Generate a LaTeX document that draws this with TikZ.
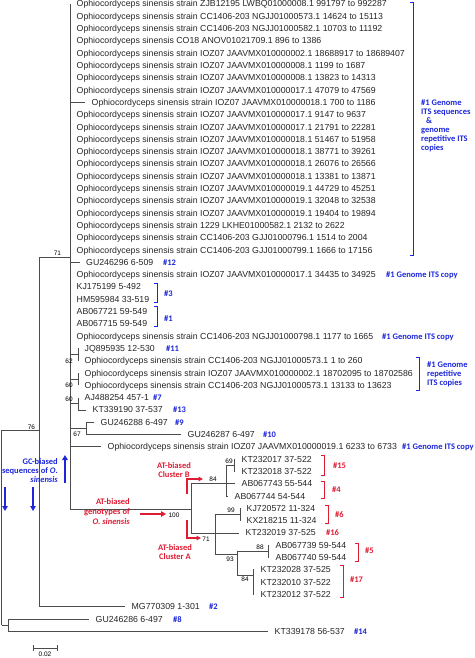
\documentclass[tikz,border=0pt]{standalone}
\usepackage{fontspec}
\setmainfont{Liberation Sans}
\newfontfamily\carl{Carlito}
\usetikzlibrary{arrows.meta}
\definecolor{tagblue}{RGB}{28,38,218}
\definecolor{tagred}{RGB}{222,28,50}
\newcommand\osn{Ophiocordyceps sinensis strain}
\begin{document}
\begin{tikzpicture}[x=1pt,y=-1pt,
 br/.style={draw=black!70,line width=.8pt},
 lf/.style={anchor=west,inner xsep=6.5pt,inner ysep=0pt,text height=6pt,text depth=0pt,text=black!85,font=\fontsize{8.75}{9}\selectfont},
 bs/.style={inner sep=0pt,font=\fontsize{6.5}{7}\selectfont},
 tagb/.style={anchor=west,inner sep=0pt,text height=6pt,text depth=0pt,text=tagblue,font=\carl\bfseries\fontsize{8.5}{9}\selectfont},
 tagr/.style={tagb,text=tagred},
 tagm/.style={inner sep=0pt,text=tagblue,font=\carl\bfseries\fontsize{8.5}{9}\selectfont},
 brk/.style={line width=.9pt},
 fat/.style={line width=1.6pt,-{Triangle[width=5.5pt,length=5pt]}}]
\useasboundingbox(0,0)rectangle(474,658);
\coordinate(root)at(1.5,625);\coordinate(n8)at(8,625);\coordinate(n76)at(39,430);\coordinate(n71)at(70,257);
\coordinate(n62)at(78,354.5);\coordinate(n60a)at(78,379.2);\coordinate(n60b)at(78,403.8);\coordinate(n67)at(86,428.4);
\coordinate(nAT)at(191,509);\coordinate(nB)at(226,483);\coordinate(n69)at(234,465.2);\coordinate(nA)at(215,533);
\coordinate(n99)at(240,514.5);\coordinate(n93)at(237,554);\coordinate(n88)at(268,551.4);\coordinate(n84)at(253,575);
\node[lf](r1)at(70,4.0){\osn\ ZJB12195 LWBQ01000008.1 991797 to 992287};
\node[lf](r2)at(70,16.3){\osn\ CC1406-203 NGJJ01000573.1 14624 to 15113};
\node[lf](r3)at(70,28.6){\osn\ CC1406-203 NGJJ01000582.1 10703 to 11192};
\node[lf](r4)at(70,40.9){Ophiocordyceps sinensis CO18 ANOV01021709.1 896 to 1386};
\node[lf](r5)at(70,53.2){\osn\ IOZ07 JAAVMX010000002.1 18688917 to 18689407};
\node[lf](r6)at(70,65.5){\osn\ IOZ07 JAAVMX010000008.1 1199 to 1687};
\node[lf](r7)at(70,77.8){\osn\ IOZ07 JAAVMX010000008.1 13823 to 14313};
\node[lf](r8)at(70,90.1){\osn\ IOZ07 JAAVMX010000017.1 47079 to 47569};
\node[lf](r9)at(85,102.4){\osn\ IOZ07 JAAVMX010000018.1 700 to 1186};
\node[lf](r10)at(70,114.7){\osn\ IOZ07 JAAVMX010000017.1 9147 to 9637};
\node[lf](r11)at(70,127.0){\osn\ IOZ07 JAAVMX010000017.1 21791 to 22281};
\node[lf](r12)at(70,139.3){\osn\ IOZ07 JAAVMX010000018.1 51467 to 51958};
\node[lf](r13)at(70,151.6){\osn\ IOZ07 JAAVMX010000018.1 38771 to 39261};
\node[lf](r14)at(70,163.9){\osn\ IOZ07 JAAVMX010000018.1 26076 to 26566};
\node[lf](r15)at(70,176.2){\osn\ IOZ07 JAAVMX010000018.1 13381 to 13871};
\node[lf](r16)at(70,188.5){\osn\ IOZ07 JAAVMX010000019.1 44729 to 45251};
\node[lf](r17)at(70,200.8){\osn\ IOZ07 JAAVMX010000019.1 32048 to 32538};
\node[lf](r18)at(70,213.1){\osn\ IOZ07 JAAVMX010000019.1 19404 to 19894};
\node[lf](r19)at(70,225.4){\osn\ 1229 LKHE01000582.1 2132 to 2622};
\node[lf](r20)at(70,237.7){\osn\ CC1406-203 GJJ01000796.1 1514 to 2004};
\node[lf](r21)at(70,250.0){\osn\ CC1406-203 GJJ01000799.1 1666 to 17156};
\node[lf](r22)at(79.5,262.3){GU246296 6-509};
\node[lf](r23)at(70,274.6){\osn\ IOZ07 JAAVMX010000017.1 34435 to 34925};
\node[lf](r24)at(70,286.9){KJ175199 5-492};
\node[lf](r25)at(70,299.2){HM595984 33-519};
\node[lf](r26)at(70,311.5){AB067721 59-549};
\node[lf](r27)at(70,323.8){AB067715 59-549};
\node[lf](r28)at(70,336.1){\osn\ CC1406-203 NGJJ01000798.1 1177 to 1665};
\node[lf](r29)at(78,348.4){JQ895935 12-530};
\node[lf](r30)at(78,360.7){\osn\ CC1406-203 NGJJ01000573.1 1 to 260};
\node[lf](r31)at(78,373.0){\osn\ IOZ07 JAAVMX010000002.1 18702095 to 18702586};
\node[lf](r32)at(78,385.3){\osn\ CC1406-203 NGJJ01000573.1 13133 to 13623};
\node[lf](r33)at(78,397.6){AJ488254 457-1};
\node[lf](r34)at(86,409.9){KT339190 37-537};
\node[lf](r35)at(94,422.2){GU246288 6-497};
\node[lf](r36)at(181,434.5){GU246287 6-497};
\node[lf](r37)at(101,446.8){\osn\ IOZ07 JAAVMX010000019.1 6233 to 6733};
\node[lf](r38)at(235,459.1){KT232017 37-522};
\node[lf](r39)at(235,471.4){KT232018 37-522};
\node[lf](r40)at(235,483.7){AB067743 55-544};
\node[lf](r41)at(228,496.0){AB067744 54-544};
\node[lf](r42)at(240,508.3){KJ720572 11-324};
\node[lf](r43)at(240,520.6){KX218215 11-324};
\node[lf](r44)at(239,532.9){KT232019 37-525};
\node[lf](r45)at(269,545.2){AB067739 59-544};
\node[lf](r46)at(269,557.5){AB067740 59-544};
\node[lf](r47)at(254,569.8){KT232028 37-525};
\node[lf](r48)at(254,582.1){KT232010 37-522};
\node[lf](r49)at(254,594.4){KT232012 37-522};
\node[lf](r50)at(125,606.7){MG770309 1-301};
\node[lf](r51)at(89,619.0){GU246286 6-497};
\node[lf](r52)at(268,631.3){KT339178 56-537};
\draw[br](n71)|-(r1)(n71)|-(r9)(n71)|-(r22)(n71)|-(n62)(n71)|-(n60a)(n71)|-(n60b)(n71)|-(n67)(n71)|-(r37)(n71)|-(nAT);
\draw[br](n62)|-(r29)(n62)|-(r30);\draw[br](n60a)|-(r31)(n60a)|-(r32);\draw[br](n60b)|-(r33)(n60b)|-(r34);\draw[br](n67)|-(r35)(n67)|-(r36);
\draw[br](nAT)|-(nB)(nAT)|-(nA);\draw[br](nB)|-(n69)(nB)|-(r40)(nB)|-(r41);\draw[br](n69)|-(r38)(n69)|-(r39);
\draw[br](nA)|-(n99)(nA)|-(r44)(nA)|-(n93);\draw[br](n99)|-(r42)(n99)|-(r43);\draw[br](n93)|-(n88)(n93)|-(n84);
\draw[br](n88)|-(r45)(n88)|-(r46);\draw[br](n84)|-(r47)(n84)|-(r48)(n84)|-(r49);
\draw[br](n76)|-(n71)(n76)|-(r50);\draw[br](root)|-(n76)(root)--(n8);\draw[br](n8)|-(r51)(n8)|-(r52);
\node[bs](b71)at(57.5,253){71};\node[bs](b76)at(31.5,427){76};\node[bs](b62)at(69,361){62};\node[bs](b60a)at(69,385){60};\node[bs](b60b)at(69,399){60};
\node[bs](b67)at(77,434){67};\node[bs](b100)at(174,515){100};\node[bs](b84a)at(213,479){84};\node[bs](b69)at(229,461){69};\node[bs](b99)at(231,510){99};
\node[bs](b71a)at(206,539){71};\node[bs](b88)at(260,547){88};\node[bs](b93)at(230,559){93};\node[bs](b84b)at(245,579){84};
\node[tagb](t12)at(163,262.3){\#12};\node[tagb](c23)at(386,274.6){\#1 Genome ITS copy};\node[tagb](t3)at(164,293){\#3};\node[tagb](t1)at(164,318){\#1};
\node[tagb](c28)at(382,336.1){\#1 Genome ITS copy};\node[tagb](t11)at(166,348.4){\#11};\node[tagb](t7)at(153,397.6){\#7};\node[tagb](t13)at(173,409.9){\#13};
\node[tagb](t9)at(175,422.2){\#9};\node[tagb](t10)at(263,434.5){\#10};\node[tagb](c37)at(402,446.8){\#1 Genome ITS copy};
\node[tagb](t2)at(209,606.7){\#2};\node[tagb](t8)at(173,619){\#8};\node[tagb](t14)at(354,631.3){\#14};
\node[tagr](t15)at(333,465){\#15};\node[tagr](t4)at(332,489){\#4};\node[tagr](t6)at(335,514){\#6};\node[tagr](t16)at(326,532.9){\#16};\node[tagr](t5)at(365,550){\#5};\node[tagr](t17)at(350,579){\#17};
\draw[tagblue,brk](154,283)-|(157,302)--++(-3,0);\draw[tagblue,brk](154,306)-|(157,326)--++(-3,0);
\draw[tagblue,brk](410,2)-|(413,255)--++(-3,0);\draw[tagblue,brk](416,357)-|(419,390)--++(-3,0);
\draw[tagred,brk](321,455)-|(324,475)--++(-3,0);\draw[tagred,brk](321,481)-|(324,498)--++(-3,0);\draw[tagred,brk](325,505)-|(328,523)--++(-3,0);
\draw[tagred,brk](355,543)-|(358,561)--++(-3,0);\draw[tagred,brk](340,565)-|(343,597)--++(-3,0);
\node[tagm,anchor=north west,align=left](g1)at(421,99){\#1 Genome\\ITS sequences\\\hspace{5pt}\&\\genome\\repetitive ITS\\copies};
\node[tagm,anchor=north west,align=left](g2)at(427,361){\#1 Genome\\repetitive\\ITS copies};
\node[tagm,anchor=north east,align=right](gc)at(58,458){GC-biased\\sequences of \textit{O.}\\\textit{sinensis}};
\node[tagm,text=tagred,anchor=north east,align=right,font=\carl\bfseries\fontsize{8.5}{10}\selectfont](at)at(130,498){AT-biased\\genotypes of\\\textit{O. sinensis}};
\node[tagm,text=tagred,anchor=north,align=center](cb)at(174,462){AT-biased\\Cluster B};
\node[tagm,text=tagred,anchor=north,align=center](ca)at(175,544){AT-biased\\Cluster A};
\draw[tagblue,fat](65,483)--(65,455);\draw[tagblue,fat](5,487)--(5,511);\draw[tagblue,fat](33,487)--(33,511);
\draw[tagred,fat](140,514)--(166,514);
\draw[tagred,line width=1.2pt,-{Triangle[width=4.5pt,length=4.5pt]}](187,494)|-(203,479);
\draw[tagred,line width=1.2pt,-{Triangle[width=4.5pt,length=4.5pt]}](187,520)|-(201,538);
\draw[line width=.6pt,black!70](33,645)--(33,651)(33,648)--(57,648)(57,645)--(57,651);
\node[bs](sc)at(45,654.5){0.02};
\end{tikzpicture}
\end{document}
